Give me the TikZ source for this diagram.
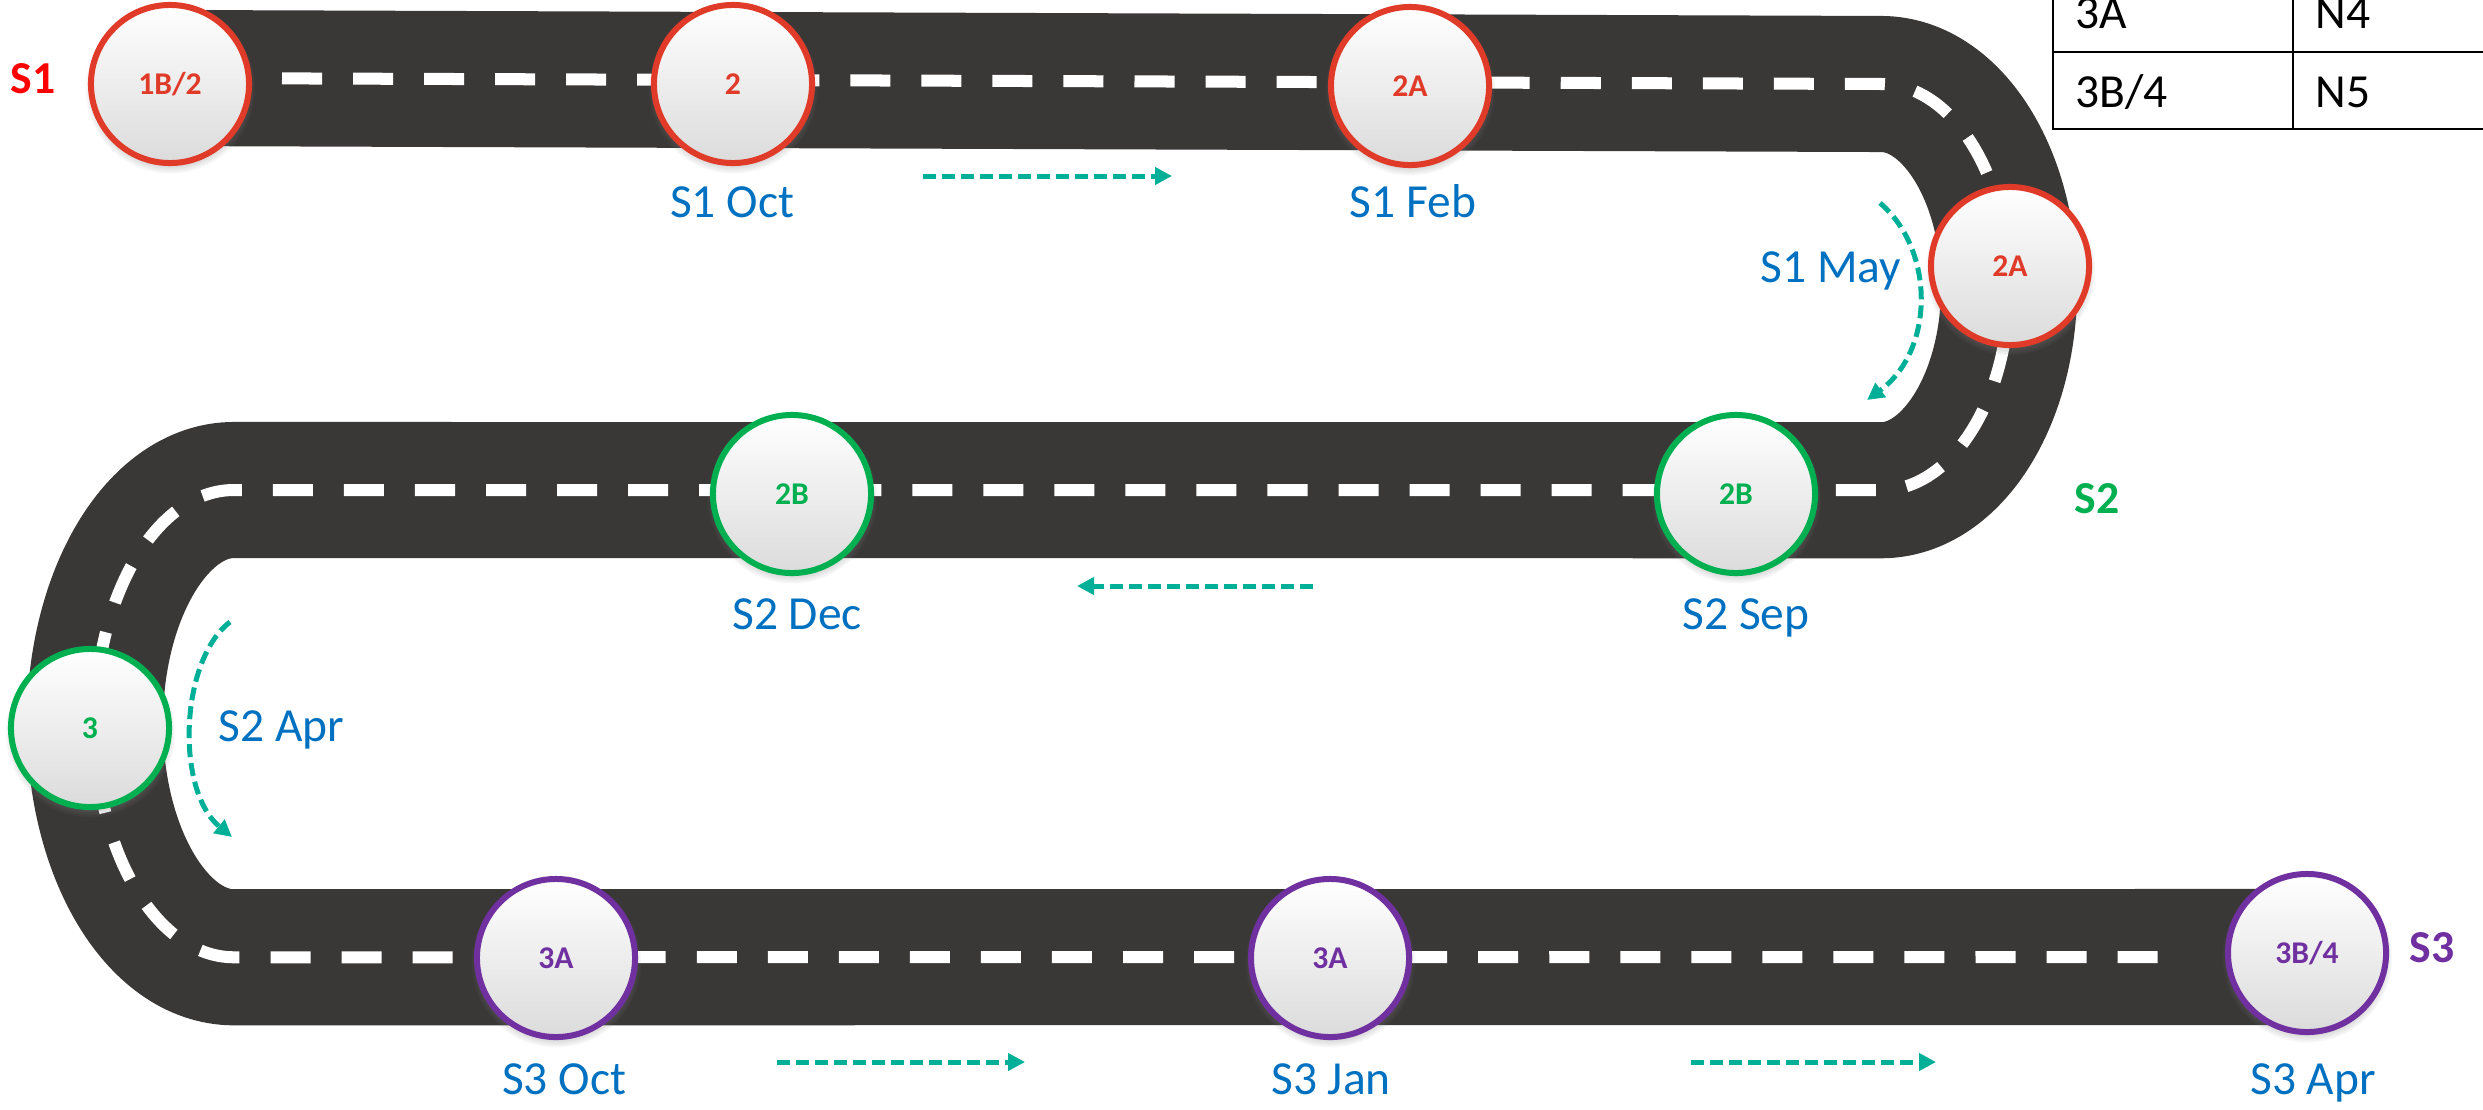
\documentclass[tikz,border=0pt]{standalone}
\usepackage{fontspec}
\setmainfont{Carlito}
\usetikzlibrary{shadows,arrows.meta}
\definecolor{roadgray}{HTML}{3A3837}
\definecolor{cred}{HTML}{E03A28}
\definecolor{sred}{HTML}{FF0000}
\definecolor{cgreen}{HTML}{00B050}
\definecolor{cpurple}{HTML}{7030A0}
\definecolor{cblue}{HTML}{0070C0}
\definecolor{cteal}{HTML}{00AF98}
\tikzset{
 stop/.style={circle, minimum size=1.58cm, inner sep=0pt, line width=0.06cm, draw=#1, text=#1,
   top color=white, bottom color=black!14,
   circular drop shadow={shadow xshift=0pt, shadow yshift=-0.04cm, shadow scale=1.08, opacity=0.45},
   font=\fontsize{9}{10}\selectfont\bfseries},
 month/.style={text=cblue, font=\fontsize{13.5}{16}\selectfont, inner sep=0pt, anchor=base},
 semlabel/.style={text=#1, font=\fontsize{13}{15}\selectfont\bfseries, inner sep=0pt, anchor=base},
 flow/.style={draw=cteal, line width=0.05cm, dash pattern=on 0.13cm off 0.06cm, -{Triangle[length=0.17cm,width=0.17cm]}},
 cell/.style={font=\fontsize{13.5}{16}\selectfont, anchor=base west, inner sep=0pt},
 roadbed/.style={draw=roadgray, line width=1.36cm},
 lane/.style={draw=white, line width=0.12cm, dash pattern=on 0.40cm off 0.31cm},
}
\begin{document}
\begin{tikzpicture}[x=0.01cm,y=-0.01cm]
\useasboundingbox (0,0) rectangle (2483,1109);
\clip (0,0) rectangle (2483,1109);
% road
\draw[roadbed] (170,78) -- (1881,84)
  arc[start angle=90,end angle=-90,x radius=1.28cm,y radius=2.03cm] -- (234,490)
  arc[start angle=90,end angle=270,x radius=1.39cm,y radius=2.335cm] -- (2300,957);
\draw[lane] (282,78.4) -- (1881,84)
  arc[start angle=90,end angle=-90,x radius=1.28cm,y radius=2.03cm] -- (234,490)
  arc[start angle=90,end angle=270,x radius=1.39cm,y radius=2.335cm] -- (2160,957);
% table
\draw[line width=0.027cm] (2053,-10) -- (2053,129) -- (2500,129)
  (2053,52) -- (2500,52) (2293,-10) -- (2293,129);
\node[cell] (t11) at (2075,28) {3A};
\node[cell] (t12) at (2315,28) {N4};
\node[cell] (t21) at (2075,107) {3B/4};
\node[cell] (t22) at (2315,107) {N5};
% stops
\node[stop=cred] (c1) at (170,84) {1B/2};
\node[stop=cred] (c2) at (733,84) {2};
\node[stop=cred] (c3) at (1410,86) {2A};
\node[stop=cred] (c4) at (2010,266) {2A};
\node[stop=cgreen] (c5) at (1736,494) {2B};
\node[stop=cgreen] (c6) at (792,494) {2B};
\node[stop=cgreen] (c7) at (90,728) {3};
\node[stop=cpurple] (c8) at (556,958) {3A};
\node[stop=cpurple] (c9) at (1330,958) {3A};
\node[stop=cpurple] (c10) at (2307,953) {3B/4};
% month labels
\node[month] (m1) at (732,217) {S1 Oct};
\node[month] (m2) at (1413,217) {S1 Feb};
\node[month, anchor=base east] (m3) at (1902,282) {S1 May};
\node[month] (m4) at (1746,629) {S2 Sep};
\node[month] (m5) at (797,629) {S2 Dec};
\node[month, anchor=base west] (m6) at (218,741) {S2 Apr};
\node[month] (m7) at (564,1094) {S3 Oct};
\node[month] (m8) at (1331,1094) {S3 Jan};
\node[month] (m9) at (2313,1094) {S3 Apr};
% semester labels
\node[semlabel=sred] (s1) at (33,93) {S1};
\node[semlabel=cgreen] (s2) at (2097,513) {S2};
\node[semlabel=cpurple] (s3) at (2432,962) {S3};
% flow arrows
\coordinate (a1s) at (923,176); \coordinate (a1e) at (1172,176);
\coordinate (a2s) at (1313,586); \coordinate (a2e) at (1077,586);
\coordinate (a3s) at (777,1062); \coordinate (a3e) at (1025,1062);
\coordinate (a4s) at (1691,1062); \coordinate (a4e) at (1936,1062);
\coordinate (a5s) at (1880,203); \coordinate (a5e) at (1867,400);
\coordinate (a6s) at (230,622); \coordinate (a6e) at (232,837);
\draw[flow] (a1s) -- (a1e);
\draw[flow] (a2s) -- (a2e);
\draw[flow] (a3s) -- (a3e);
\draw[flow] (a4s) -- (a4e);
\draw[flow] (a5s) .. controls (1935,250) and (1935,350) .. (a5e);
\draw[flow] (a6s) .. controls (180,660) and (175,790) .. (a6e);
\end{tikzpicture}
\end{document}
